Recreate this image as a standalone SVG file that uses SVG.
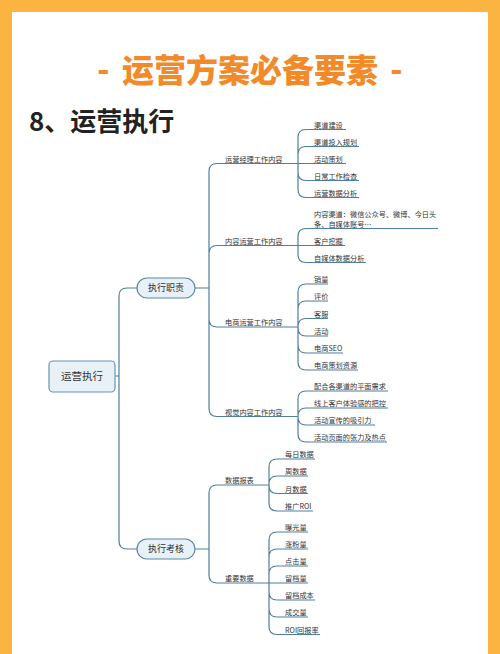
<svg xmlns="http://www.w3.org/2000/svg" width="500" height="654" viewBox="0 0 500 654">
<style>
.t{font-family:"Noto Sans CJK SC","Noto Sans",sans-serif;font-size:7.2px;fill:#333;}
.c{fill:none;stroke:#4f7f9c;stroke-width:1.2;}
.pill{fill:#e8f1f9;stroke:#5b87a6;stroke-width:1.2;}
</style>
<rect x="0" y="0" width="500" height="654" fill="#fbb441"/>
<rect x="12" y="12" width="476" height="642" fill="#ffffff"/>
<g id="title">
<text x="103.5" y="81" text-anchor="middle" font-family="Noto Sans CJK SC,sans-serif" font-weight="900" font-size="32" fill="#f28a2a">-</text>
<text x="250" y="82" text-anchor="middle" font-family="Noto Sans CJK SC,sans-serif" font-weight="900" font-size="32" fill="#f28a2a">运营方案必备要素</text>
<text x="396.5" y="81" text-anchor="middle" font-family="Noto Sans CJK SC,sans-serif" font-weight="900" font-size="32" fill="#f28a2a">-</text>
</g>
<g id="heading">
<text x="29" y="131" font-family="Noto Sans CJK SC,sans-serif" font-weight="700" font-size="26" fill="#222">8、运营执行</text>
</g>
<g id="connectors">
<path class="c" d="M115,376H119M119,376V296Q119,288 127,288H137M119,376V541Q119,549 127,549H137"/>
<path class="c" d="M195,288H209M209,288V171.5Q209,163.5 217,163.5H298M209,288V253.5Q209,245.5 217,245.5H298M209,288V319Q209,327 217,327H298M209,288V408.5Q209,416.5 217,416.5H298"/>
<path class="c" d="M195,549H209M209,549V493Q209,485 217,485H269M209,549V575Q209,583 217,583H269"/>
<path class="c" d="M298,163.5V137.5Q298,129.5 306,129.5H346M298,163.5V154.5Q298,146.5 306,146.5H359M298,163.5H346M298,163.5V172.5Q298,180.5 306,180.5H359M298,163.5V189.5Q298,197.5 306,197.5H359"/>
<path class="c" d="M298,245.5V236.5Q298,228.5 306,228.5H438M298,245.5H345M298,245.5V254.5Q298,262.5 306,262.5H366"/>
<path class="c" d="M298,327V292Q298,284 306,284H328M298,327V309Q298,301 306,301H328M298,327V326.5Q298,318.5 306,318.5H328M298,327V328Q298,336 306,336H328M298,327V345Q298,353 306,353H343M298,327V362Q298,370 306,370H358"/>
<path class="c" d="M298,416.5V399Q298,391 306,391H388M298,416.5V416Q298,408 306,408H388M298,416.5V417Q298,425 306,425H375M298,416.5V434Q298,442 306,442H387"/>
<path class="c" d="M269,485V467Q269,459 277,459H315M269,485V484Q269,476 277,476H308M269,485V485.5Q269,493.5 277,493.5H308M269,485V503Q269,511 277,511H313"/>
<path class="c" d="M269,583V540Q269,532 277,532H308M269,583V557Q269,549 277,549H308M269,583V574Q269,566 277,566H308M269,583H308M269,583V592Q269,600 277,600H315M269,583V609Q269,617 277,617H308M269,583V626.5Q269,634.5 277,634.5H320"/>
</g>
<g id="root">
<rect x="49" y="361" width="66" height="31" rx="4" fill="#e9f1f8" stroke="#6a93b0" stroke-width="1.2"/>
<text x="82" y="380" text-anchor="middle" class="t" style="font-size:10.5px">运营执行</text>
</g>
<g id="n-zhize">
<rect class="pill" x="137" y="278" width="58" height="20" rx="10"/>
<text x="166" y="291.3" text-anchor="middle" class="t" style="font-size:9px">执行职责</text>
</g>
<g id="n-kaohe">
<rect class="pill" x="137" y="539" width="58" height="20" rx="10"/>
<text x="166" y="552.3" text-anchor="middle" class="t" style="font-size:9px">执行考核</text>
</g>
<g id="n-yyjl"><text class="t" x="225" y="161.5">运营经理工作内容</text></g>
<g id="n-nryy"><text class="t" x="225" y="243.5">内容运营工作内容</text></g>
<g id="n-dsyy"><text class="t" x="225" y="325">电商运营工作内容</text></g>
<g id="n-sjnr"><text class="t" x="225" y="414.5">视觉内容工作内容</text></g>
<g id="n-sjbb"><text class="t" x="225" y="483">数据报表</text></g>
<g id="n-zysj"><text class="t" x="225" y="581">重要数据</text></g>
<g id="n-a1"><text class="t" x="314" y="127.5">渠道建设</text></g>
<g id="n-a2"><text class="t" x="314" y="144.5">渠道投入规划</text></g>
<g id="n-a3"><text class="t" x="314" y="161.5">活动策划</text></g>
<g id="n-a4"><text class="t" x="314" y="178.5">日常工作检查</text></g>
<g id="n-a5"><text class="t" x="314" y="195.5">运营数据分析</text></g>
<g id="n-b1"><text class="t" x="314" y="217">内容渠道：微信公众号、微博、今日头</text><text class="t" x="314" y="226.5">条、自媒体账号…</text></g>
<g id="n-b2"><text class="t" x="314" y="243.5">客户挖掘</text></g>
<g id="n-b3"><text class="t" x="314" y="260.5">自媒体数据分析</text></g>
<g id="n-c1"><text class="t" x="314" y="282">销量</text></g>
<g id="n-c2"><text class="t" x="314" y="299">评价</text></g>
<g id="n-c3"><text class="t" x="314" y="316.5">客服</text></g>
<g id="n-c4"><text class="t" x="314" y="334">活动</text></g>
<g id="n-c5"><text class="t" x="314" y="351">电商SEO</text></g>
<g id="n-c6"><text class="t" x="314" y="368">电商策划资源</text></g>
<g id="n-d1"><text class="t" x="314" y="389">配合各渠道的平面需求</text></g>
<g id="n-d2"><text class="t" x="314" y="406">线上客户体验感的把控</text></g>
<g id="n-d3"><text class="t" x="314" y="423">活动宣传的吸引力</text></g>
<g id="n-d4"><text class="t" x="314" y="440">活动页面的张力及热点</text></g>
<g id="n-e1"><text class="t" x="285" y="457">每日数据</text></g>
<g id="n-e2"><text class="t" x="285" y="474">周数据</text></g>
<g id="n-e3"><text class="t" x="285" y="491.5">月数据</text></g>
<g id="n-e4"><text class="t" x="285" y="509">推广ROI</text></g>
<g id="n-f1"><text class="t" x="285" y="530">曝光量</text></g>
<g id="n-f2"><text class="t" x="285" y="547">涨粉量</text></g>
<g id="n-f3"><text class="t" x="285" y="564">点击量</text></g>
<g id="n-f4"><text class="t" x="285" y="581">留档量</text></g>
<g id="n-f5"><text class="t" x="285" y="598">留档成本</text></g>
<g id="n-f6"><text class="t" x="285" y="615">成交量</text></g>
<g id="n-f7"><text class="t" x="285" y="632.5">ROI回报率</text></g>
</svg>
